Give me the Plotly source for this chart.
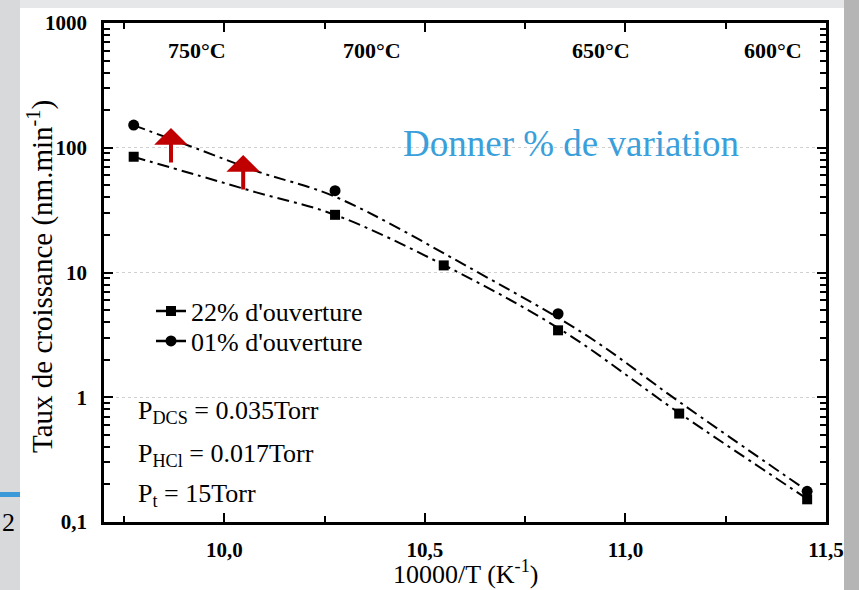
import math
import plotly.graph_objects as go

# ---- data ----
inv_t = [9.774, 10.276, 10.547, 10.832, 11.134, 11.453]
taux_22 = [84.7, 29.0, 11.4, 3.44, 0.74, 0.152]

inv_t_01 = [9.774, 10.276, 10.832, 11.453]
taux_01 = [152, 45.3, 4.67, 0.176]

# fitted (dash-dot) curves
fit_x_22 = [9.773, 9.940, 10.082, 10.276, 10.549, 10.839, 11.136, 11.455]
fit_y_22 = [84.7, 59.3, 43.7, 29.0, 11.4, 3.48, 0.74, 0.152]
fit_x_01 = [9.773, 9.940, 10.082, 10.276, 10.621, 10.905, 11.136, 11.437]
fit_y_01 = [152, 96, 64.6, 40.5, 10.5, 3.1, 0.91, 0.193]

x_tickvals = [10.0, 10.5, 11.0, 11.5]
x_ticktext = ["10,0", "10,5", "11,0", "11,5"]
x_minor = [9.75, 10.25, 10.75, 11.25]
y_tickvals = [0.1, 1, 10, 100, 1000]
y_ticktext = ["0,1", "1", "10", "100", "1000"]
y_minor = [m * d for d in [0.1, 1, 10, 100] for m in range(2, 10)]

temp_labels = ["750°C", "700°C", "650°C", "600°C"]
temp_pos = [9.932, 10.369, 10.938, 11.367]

cond_labels = ["P<sub>DCS</sub> = 0.035Torr", "P<sub>HCl</sub> = 0.017Torr", "P<sub>t</sub> = 15Torr"]

arrow_x = [9.867, 10.047]
arrow_tip = [144, 87.5]

# ---- geometry helpers (pixel -> paper) ----
L, R, T, B = 104, 33, 23, 68
W, H = 859, 590
PW, PH = W - L - R, H - T - B


def px(p):
    return (p - L) / PW


def py(p):
    return (H - B - p) / PH


def isolated(xs, ys):
    # points with gaps between them: legend shows line+marker, no joining lines
    ox, oy = [], []
    for a, b in zip(xs, ys):
        ox += [a, None]
        oy += [b, None]
    return ox, oy


SERIF = "Liberation Serif"
DASHDOT = "12px,5px,3px,5px"

fig = go.Figure()

# fitted curves
fig.add_trace(go.Scatter(x=fit_x_22, y=fit_y_22, mode="lines", line_shape="spline",
                         line=dict(color="black", width=2, dash=DASHDOT), showlegend=False))
fig.add_trace(go.Scatter(x=fit_x_01, y=fit_y_01, mode="lines", line_shape="spline",
                         line=dict(color="black", width=2, dash=DASHDOT), showlegend=False))

# points
x22, y22 = isolated(inv_t, taux_22)
x01, y01 = isolated(inv_t_01, taux_01)
fig.add_trace(go.Scatter(x=x22, y=y22, mode="lines+markers", name="22% d'ouverture",
                         connectgaps=False, line=dict(color="black", width=2.5), legend="legend",
                         marker=dict(symbol="square", size=10, color="black")))
fig.add_trace(go.Scatter(x=x01, y=y01, mode="lines+markers", name="01% d'ouverture",
                         connectgaps=False, line=dict(color="black", width=2.5), legend="legend2",
                         marker=dict(symbol="circle", size=11, color="black")))

annotations = []
for lab, xp in zip(temp_labels, temp_pos):
    annotations.append(dict(x=xp, y=py(50), xref="x", yref="paper", text="<b>" + lab + "</b>",
                            xanchor="center", yanchor="middle", showarrow=False,
                            font=dict(family=SERIF, size=22, color="black")))

for i, lab in enumerate(cond_labels):
    annotations.append(dict(x=px(136), y=py([412, 455, 495][i]), xref="paper", yref="paper",
                            xanchor="left", yanchor="middle", text=lab, showarrow=False,
                            font=dict(family=SERIF, size=26, color="black")))

annotations.append(dict(x=px(571), y=py(143), xref="paper", yref="paper", text="Donner % de variation",
                        xanchor="center", yanchor="middle", showarrow=False,
                        font=dict(family=SERIF, size=37, color="#3a9fda")))

for xa, ya in zip(arrow_x, arrow_tip):
    annotations.append(dict(x=xa, y=math.log10(ya), xref="x", yref="y", text="", showarrow=True,
                            ax=0, ay=36, arrowhead=1, arrowsize=1.4, arrowwidth=4,
                            arrowcolor="#c00000", standoff=0))

annotations.append(dict(x=px(40), y=py(277), xref="paper", yref="paper", textangle=-90,
                        xanchor="center", yanchor="middle",
                        text="Taux de croissance (nm.min<sup>-1</sup>)", showarrow=False,
                        font=dict(family=SERIF, size=29, color="black")))

annotations.append(dict(x=px(465), y=py(572), xref="paper", yref="paper",
                        xanchor="center", yanchor="middle",
                        text="10000/T (K<sup>-1</sup>)", showarrow=False,
                        font=dict(family=SERIF, size=26, color="black")))

annotations.append(dict(x=px(0), y=py(522), xref="paper", yref="paper", xanchor="left", yanchor="middle",
                        text="2", showarrow=False, font=dict(family=SERIF, size=26, color="black")))

shapes = [
    dict(type="rect", xref="paper", yref="paper", x0=px(0), x1=px(20), y0=py(590), y1=py(0),
         fillcolor="#d8d9db", line_width=0, layer="below"),
    dict(type="rect", xref="paper", yref="paper", x0=px(844), x1=px(859), y0=py(590), y1=py(0),
         fillcolor="#b5b5b5", line_width=0, layer="below"),
    dict(type="rect", xref="paper", yref="paper", x0=px(20), x1=px(844), y0=py(590), y1=py(8),
         fillcolor="white", line_width=0, layer="below"),
    dict(type="rect", xref="paper", yref="paper", x0=px(0), x1=px(20), y0=py(497), y1=py(492),
         fillcolor="#3a9ad9", line_width=0, layer="below"),
]

axis_common = dict(showline=True, linecolor="black", linewidth=2.5, mirror="allticks",
                   ticks="inside", ticklen=9, tickwidth=2, tickcolor="black", automargin=False,
                   tickfont=dict(family=SERIF, size=21, color="black", weight="bold"), zeroline=False)

fig.update_xaxes(range=[9.7, 11.5], tickmode="array", tickvals=x_tickvals, ticktext=x_ticktext,
                 showgrid=False, ticklabelstandoff=7,
                 minor=dict(tickmode="array", tickvals=x_minor, ticks="inside", ticklen=6,
                            tickwidth=2, tickcolor="black"),
                 **axis_common)
fig.update_yaxes(type="log", range=[-1, 3], tickmode="array", tickvals=y_tickvals, ticktext=y_ticktext,
                 showgrid=True, gridcolor="#d0d0d0", gridwidth=1, griddash="dot", ticklabelstandoff=10,
                 minor=dict(tickmode="array", tickvals=y_minor, ticks="inside", ticklen=6,
                            tickwidth=2, tickcolor="black", showgrid=False),
                 **axis_common)

legend_style = dict(xanchor="left", yanchor="middle", bgcolor="rgba(0,0,0,0)",
                    font=dict(family=SERIF, size=26, color="black"))

fig.update_layout(
    width=W, height=H,
    margin=dict(l=L, r=R, t=T, b=B),
    paper_bgcolor="#e6e7e9",
    plot_bgcolor="white",
    showlegend=True,
    legend=dict(x=px(151), y=py(311), **legend_style),
    legend2=dict(x=px(151), y=py(341), **legend_style),
    annotations=annotations,
    shapes=shapes,
)

fig.write_html("out.html", config={"displayModeBar": False},
               post_script="document.body.style.margin='0px';")
